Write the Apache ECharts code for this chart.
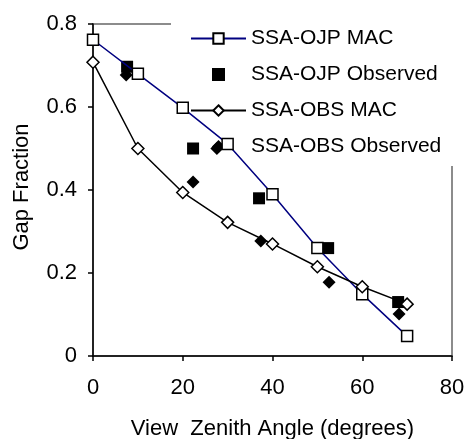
<!DOCTYPE html>
<html>
<head>
<meta charset="utf-8">
<script src="https://cdn.jsdelivr.net/npm/echarts@6/dist/echarts.min.js"></script>
<style>
  html, body { margin: 0; padding: 0; background: #fff; }
  #main { width: 467px; height: 439px; }
</style>
</head>
<body>
<div id="main"></div>
<script>
// view zenith angles (degrees) and gap fractions
var macAngles = [0, 10, 20, 30, 40, 50, 60, 70];
var ojpMac = [0.762, 0.68, 0.598, 0.511, 0.39, 0.26, 0.149, 0.048];
var obsMac = [0.708, 0.50, 0.394, 0.322, 0.27, 0.215, 0.167, 0.125];

var ojpObsAngles = [7.6, 22.3, 37, 52.4, 68];
var ojpObserved = [0.697, 0.50, 0.38, 0.26, 0.13];

var obsObsAngles = [7.4, 22.3, 27.6, 37.4, 52.6, 68.2];
var obsObserved = [0.677, 0.419, 0.50, 0.277, 0.178, 0.101];

var xTicks = [0, 20, 40, 60, 80];
var yTicks = [0, 0.2, 0.4, 0.6, 0.8];

function pairs(xs, ys) {
  var out = [];
  for (var i = 0; i < xs.length; i++) out.push([xs[i], ys[i]]);
  return out;
}

var font = 'Liberation Sans, Arial, sans-serif';
var squareIcon = 'path://M0,0L1,0L1,1L0,1Z';
var diamondIcon = 'path://M0.5,0L1,0.5L0.5,1L0,0.5Z';

var chartDom = document.getElementById('main');
var myChart = echarts.init(chartDom);
var option;

option = {
  animation: false,
  textStyle: { fontFamily: font },
  grid: {
    left: 93, right: 15, top: 24, bottom: 83,
    outerBoundsMode: 'none',
    show: true,
    borderColor: '#8c8c8c',
    borderWidth: 2,
    backgroundColor: '#fff'
  },
  legend: {
    orient: 'vertical',
    left: 171,
    top: 0,
    z: 1,
    padding: [28, 30, 9, 19],
    backgroundColor: '#fff',
    itemWidth: 55,
    itemHeight: 13,
    itemGap: 15,
    textStyle: { fontFamily: font, fontSize: 21, color: '#000' },
    data: [
      { name: 'SSA-OJP MAC' },
      { name: 'SSA-OJP Observed', icon: squareIcon },
      { name: 'SSA-OBS MAC' },
      { name: 'SSA-OBS Observed', icon: diamondIcon }
    ]
  },
  xAxis: {
    type: 'value',
    min: xTicks[0],
    max: xTicks[xTicks.length - 1],
    interval: 20,
    name: 'View  Zenith Angle (degrees)',
    nameLocation: 'middle',
    nameGap: 62,
    nameTextStyle: { fontFamily: font, fontSize: 22, color: '#000' },
    axisLine: { lineStyle: { color: '#000', width: 1.5 } },
    axisTick: { show: true, inside: false, length: 5, lineStyle: { color: '#000', width: 1.5 } },
    axisLabel: { fontFamily: font, fontSize: 22, color: '#000', margin: 21 },
    splitLine: { show: false }
  },
  yAxis: {
    type: 'value',
    min: yTicks[0],
    max: yTicks[yTicks.length - 1],
    interval: 0.2,
    name: 'Gap Fraction',
    nameLocation: 'middle',
    nameGap: 60,
    nameTextStyle: { fontFamily: font, fontSize: 22, color: '#000', padding: [0, 0, 0, 6] },
    axisLine: { show: true, lineStyle: { color: '#000', width: 1.5 } },
    axisTick: { show: true, inside: false, length: 5, lineStyle: { color: '#000', width: 1.5 } },
    axisLabel: { fontFamily: font, fontSize: 22, color: '#000', margin: 16 },
    splitLine: { show: false }
  },
  series: [
    {
      name: 'SSA-OJP MAC',
      type: 'line',
      data: pairs(macAngles, ojpMac),
      symbol: 'rect',
      symbolSize: 11,
      showAllSymbol: true,
      lineStyle: { color: '#000080', width: 1.5 },
      itemStyle: { color: '#fff', borderColor: '#000', borderWidth: 1.5 }
    },
    {
      name: 'SSA-OJP Observed',
      type: 'scatter',
      data: pairs(ojpObsAngles, ojpObserved),
      symbol: 'rect',
      symbolSize: 12,
      itemStyle: { color: '#000', opacity: 1 }
    },
    {
      name: 'SSA-OBS MAC',
      type: 'line',
      data: pairs(macAngles, obsMac),
      symbol: 'diamond',
      symbolSize: 12,
      showAllSymbol: true,
      lineStyle: { color: '#000', width: 1.5 },
      itemStyle: { color: '#fff', borderColor: '#000', borderWidth: 1.5 }
    },
    {
      name: 'SSA-OBS Observed',
      type: 'scatter',
      data: pairs(obsObsAngles, obsObserved),
      symbol: 'diamond',
      symbolSize: 13,
      itemStyle: { color: '#000', opacity: 1 }
    }
  ]
};
option && myChart.setOption(option);
</script>
</body>
</html>
